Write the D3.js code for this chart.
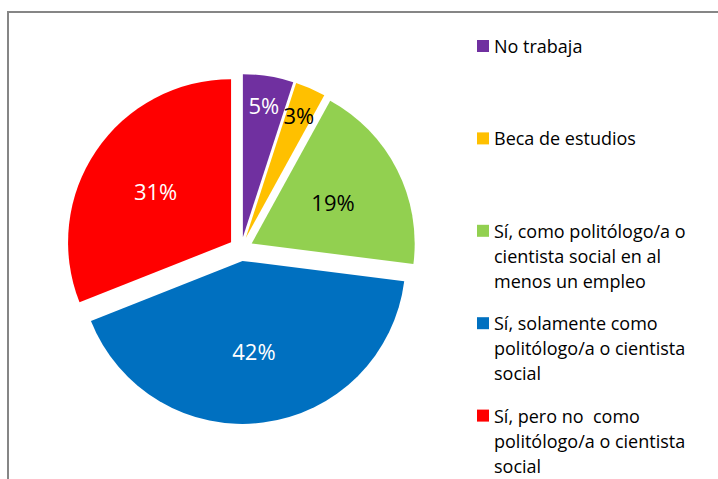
<!DOCTYPE html>
<html>
<head>
<meta charset="utf-8">
<script src="https://cdn.jsdelivr.net/npm/d3@7"></script>
<style>
  html, body { margin: 0; padding: 0; background: #fff; }
  svg { display: block; }
</style>
</head>
<body>
<svg id="chart" width="718" height="479"></svg>
<script>
const categories = [
  "No trabaja",
  "Beca de estudios",
  "Sí, como politólogo/a o cientista social en al menos un empleo",
  "Sí, solamente como politólogo/a o cientista social",
  "Sí, pero no  como politólogo/a o cientista social"
];
const legendLines = [
  ["No trabaja"],
  ["Beca de estudios"],
  ["Sí, como politólogo/a o", "cientista social en al", "menos un empleo"],
  ["Sí, solamente como", "politólogo/a o cientista", "social"],
  ["Sí, pero no  como", "politólogo/a o cientista", "social"]
];
const values = [5, 3, 19, 42, 31];
const labels = ["5%", "3%", "19%", "42%", "31%"];
const colors = ["#7030A0", "#FFC000", "#92D050", "#0070C0", "#FF0000"];
const labelColors = ["#fff", "#000", "#000", "#fff", "#fff"];

const svg = d3.select("#chart");
const W = 718, H = 479;

// chart border (extends past right/bottom edges)
svg.append("rect")
  .attr("x", 8).attr("y", 12)
  .attr("width", W + 20).attr("height", H + 20)
  .attr("fill", "#fff")
  .attr("stroke", "#868686")
  .attr("stroke-width", 2);

const cx = 241, cy = 249, r = 163, explode = 12;

const pie = d3.pie().sort(null).value(d => d)(values);
const arc = d3.arc().innerRadius(0).outerRadius(r);
const total = d3.sum(values);

const g = svg.append("g").attr("transform", `translate(${cx},${cy})`);

const slices = g.selectAll("g.slice").data(pie).enter().append("g")
  .attr("class", "slice")
  .attr("transform", d => {
    const a = (d.startAngle + d.endAngle) / 2;
    return `translate(${explode * Math.sin(a)},${-explode * Math.cos(a)})`;
  });

slices.append("path")
  .attr("d", arc)
  .attr("fill", (d, i) => colors[i]);

slices.append("text")
  .attr("x", d => {
    const a = (d.startAngle + d.endAngle) / 2;
    const lr = d.value / total < 0.06 ? 0.82 * r : 0.56 * r;
    return lr * Math.sin(a);
  })
  .attr("y", d => {
    const a = (d.startAngle + d.endAngle) / 2;
    const lr = d.value / total < 0.06 ? 0.82 * r : 0.56 * r;
    return -lr * Math.cos(a);
  })
  .attr("text-anchor", "middle")
  .attr("dominant-baseline", "central")
  .attr("font-family", "'Open Sans', sans-serif")
  .attr("font-size", 22)
  .attr("fill", (d, i) => labelColors[i])
  .text((d, i) => labels[i]);

// legend
const legX = 477, legTop = 46, legStep = 92.4, lineH = 25;
const leg = svg.append("g");
categories.forEach((c, i) => {
  const y0 = legTop + i * legStep;
  leg.append("rect")
    .attr("x", legX).attr("y", y0 - 6)
    .attr("width", 12).attr("height", 12)
    .attr("fill", colors[i]);
  const t = leg.append("text")
    .attr("font-family", "'Open Sans', sans-serif")
    .attr("font-size", 18)
    .attr("fill", "#000");
  legendLines[i].forEach((ln, j) => {
    t.append("tspan")
      .attr("x", legX + 17)
      .attr("y", y0 + j * lineH)
      .attr("dominant-baseline", "central")
      .attr("xml:space", "preserve")
      .style("white-space", "pre")
      .text(ln);
  });
});
</script>
</body>
</html>
